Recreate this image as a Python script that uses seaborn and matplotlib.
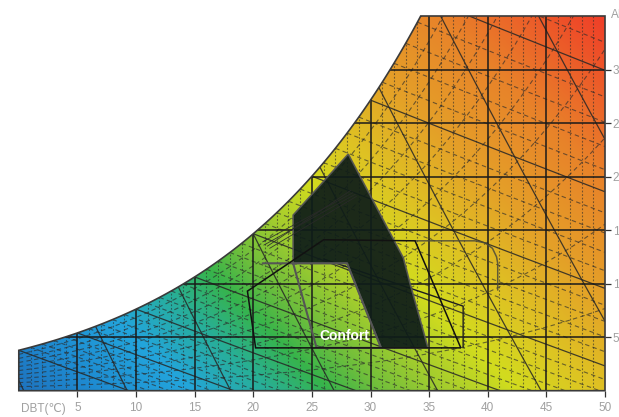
import numpy as np
import pandas as pd
import matplotlib
matplotlib.use("Agg")
import matplotlib.pyplot as plt
import seaborn as sns
from matplotlib.colors import LinearSegmentedColormap
from matplotlib.patches import Polygon

# ---------------------------------------------------------------------------
# Chart values
# ---------------------------------------------------------------------------
P_ATM = 101.325          # kPa, sea-level pressure
T_MAX = 50               # dry-bulb range (degC)
W_MAX = 35               # absolute humidity range (g/kg)

dbt_ticks = [5, 10, 15, 20, 25, 30, 35, 40, 45, 50]
ah_ticks = [5, 10, 15, 20, 25, 30]

rh_levels = [10, 20, 30, 40, 50, 60, 70, 80, 90]          # %
wb_levels = list(range(0, 41))                            # degC, solid every 5
vol_levels = [0.775, 0.8, 0.825, 0.85, 0.875, 0.9, 0.925, 0.95]  # m3/kg

# Passive strategy zone (filled)
passive_T = [28.1, 32.8, 33.4, 34.9, 30.9, 28.0, 23.4, 23.4]
passive_w = [22.1, 12.4, 9.9, 4.0, 4.0, 11.9, 11.9, 16.4]

# Comfort zone outline
comfort_T = [19.5, 26.0, 33.8, 37.7, 20.2]
comfort_w = [9.3, 14.1, 14.0, 4.0, 4.0]

# Inner trapezoid outline
inner_T = [20.8, 28.0, 30.9, 25.4, 23.4]
inner_w = [11.9, 11.9, 4.0, 4.0, 11.9]

# Ventilation outline (rounded corner on the right)
vent_T = [33.8, 38.9, 39.8, 40.4, 40.75, 40.85, 40.85]
vent_w = [14.0, 14.0, 13.8, 13.3, 12.5, 11.9, 9.4]

# Evaporative outline
evap_T = [26.0, 37.9, 37.9]
evap_w = [12.3, 7.9, 4.0]

# Bundle of process lines
bundle_T0 = [20.8, 20.9, 21.2, 21.4]
bundle_w0 = [13.9, 13.6, 13.5, 13.3]
bundle_T1 = [28.5, 28.7, 28.3, 28.8]
bundle_w1 = [18.5, 18.35, 18.7, 18.15]

comfort_label = "Confort"


# ---------------------------------------------------------------------------
# Psychrometric relations
# ---------------------------------------------------------------------------
def p_sat(T):
    return 0.61094 * np.exp(17.625 * T / (T + 243.04))


def w_rh(T, rh):
    pv = rh / 100.0 * p_sat(T)
    return 622.0 * pv / (P_ATM - pv)


def w_sat(T):
    return w_rh(T, 100.0)


def w_wb(T, twb):
    ws = w_sat(twb) / 1000.0
    return 1000.0 * ((2501 - 2.326 * twb) * ws - 1.006 * (T - twb)) / (
        2501 + 1.86 * T - 4.186 * twb)


def w_vol(T, v):
    return 1000.0 * (v * P_ATM / (0.287042 * (T + 273.15)) - 1.0) / 1.6078


# ---------------------------------------------------------------------------
# Figure
# ---------------------------------------------------------------------------
sns.set_theme(style="white")
plt.rcParams["font.family"] = ["Liberation Sans", "DejaVu Sans"]

fig = plt.figure(figsize=(6.19, 4.17), dpi=100)
ax = fig.add_axes([18.8 / 619, 26.3 / 417, 586.2 / 619, 374.7 / 417])
ax.set_xlim(0, T_MAX)
ax.set_ylim(0, W_MAX)

# Chart boundary: saturation curve capped at W_MAX
T_fine = np.linspace(0, T_MAX, 1001)
ws_fine = w_sat(T_fine)
T_cap = np.interp(W_MAX, ws_fine, T_fine)
keep = T_fine < T_cap
top_T = np.concatenate([T_fine[keep], [T_cap, T_MAX]])
top_w = np.concatenate([ws_fine[keep], [W_MAX, W_MAX]])
bx = np.concatenate([[0], top_T, [T_MAX]])
by = np.concatenate([[0], top_w, [0]])
boundary = np.column_stack([bx, by])

clip = Polygon(boundary, closed=True, transform=ax.transData,
               facecolor="none", edgecolor="none")
ax.add_patch(clip)

# Colour field
stops = [
    (0, "#1e73be"), (80, "#1e8cd2"), (170, "#23a5dc"), (250, "#28af96"),
    (310, "#37b44b"), (360, "#6ebe3c"), (430, "#a5cd2d"), (500, "#d2dc1e"),
    (580, "#dec323"), (680, "#e4a028"), (800, "#e8822a"), (980, "#f03728"),
]
cmap = LinearSegmentedColormap.from_list(
    "psy", [(p / 980.0, c) for p, c in stops])
Tg, Wg = np.meshgrid(np.linspace(0, T_MAX, 600), np.linspace(0, W_MAX, 420))
V = Tg + 0.9116 * Wg
im = ax.imshow(V, extent=(0, T_MAX, 0, W_MAX), origin="lower", aspect="auto",
               cmap=cmap, vmin=0, vmax=83.3, interpolation="bilinear", zorder=1)
im.set_clip_path(clip)


def draw_family(frame, **kw):
    start = len(ax.lines)
    sns.lineplot(data=frame, x="T", y="w", units="id", estimator=None,
                 sort=False, legend=False, ax=ax, **kw)
    for ln in ax.lines[start:]:
        ln.set_clip_path(clip)


def frame_of(segments):
    parts = [pd.DataFrame({"T": t, "w": w, "id": i})
             for i, (t, w) in enumerate(segments)]
    return pd.concat(parts, ignore_index=True)


# Minor dry-bulb lines (dotted, every 1 degC)
minor_dbt = [(np.array([t, t], float), np.array([0, W_MAX], float))
             for t in range(1, T_MAX) if t % 5]
draw_family(frame_of(minor_dbt), color="#2b2b2b", lw=0.8,
            ls=(0, (1.6, 1.6)), alpha=0.6, zorder=2)

# Relative humidity curves
T_line = np.linspace(0, T_MAX, 400)
rh_segs = [(T_line, w_rh(T_line, rh)) for rh in rh_levels]
draw_family(frame_of(rh_segs), color="#2b2b2b", lw=0.8,
            ls=(0, (4, 3)), alpha=0.65, zorder=2)

# Wet-bulb lines
wb_minor, wb_major = [], []
for twb in wb_levels:
    t = np.linspace(twb, T_MAX, 200)
    (wb_major if twb % 5 == 0 else wb_minor).append((t, w_wb(t, twb)))
draw_family(frame_of(wb_minor), color="#2b2b2b", lw=0.8,
            ls=(0, (4, 3)), alpha=0.65, zorder=2)
draw_family(frame_of(wb_major), color="#262626", lw=0.9, alpha=0.85, zorder=3)

# Specific volume lines
vol_segs = [(T_line, w_vol(T_line, v)) for v in vol_levels]
draw_family(frame_of(vol_segs), color="#262626", lw=0.9, alpha=0.85, zorder=3)

# Major grid
major = [(np.array([t, t], float), np.array([0, W_MAX], float))
         for t in range(5, T_MAX, 5)]
major += [(np.array([0, T_MAX], float), np.array([w, w], float))
          for w in ah_ticks]
draw_family(frame_of(major), color="#1a1a1a", lw=1.1, zorder=3)

# Zones
ax.add_patch(Polygon(np.column_stack([passive_T, passive_w]), closed=True,
                     facecolor="#0e1c19", alpha=0.93, edgecolor="#555555",
                     lw=1.2, zorder=5))
ax.plot(evap_T, evap_w, color="#1e1e1e", lw=1.0, zorder=4)
ax.plot(vent_T, vent_w, color="#4a4a3a", lw=1.1, alpha=0.85, zorder=4)
ax.plot(inner_T, inner_w, color="#555555", lw=1.5, zorder=6)
ax.add_patch(Polygon(np.column_stack([comfort_T, comfort_w]), closed=True,
                     fill=False, edgecolor="#111111", lw=1.1, zorder=6))
for t0, w0, t1, w1 in zip(bundle_T0, bundle_w0, bundle_T1, bundle_w1):
    ax.plot([t0, t1], [w0, w1], color="#2a2a2a", lw=0.6, alpha=0.9, zorder=6)

ax.text(27.78, 5.1, comfort_label, color="white", fontsize=10,
        fontweight="bold", ha="center", va="center", zorder=8)

# Chart outline
ax.add_patch(Polygon(boundary, closed=True, fill=False, edgecolor="#3a3a3a",
                     lw=1.2, zorder=7, clip_on=False))

# Axes decoration
for sp in ax.spines.values():
    sp.set_visible(False)
ax.set_xlabel("")
ax.set_ylabel("")
ax.set_xticks(dbt_ticks)
ax.set_xticklabels([str(t) for t in dbt_ticks])
ax.yaxis.tick_right()
ax.set_yticks(ah_ticks)
ax.set_yticklabels([str(w) for w in ah_ticks])
ax.tick_params(axis="x", bottom=True, length=4, width=0.9, color="#333333",
               labelcolor="#a0a0a0", labelsize=8.5, pad=4)
ax.tick_params(axis="y", right=True, left=False, length=4.5, width=0.9,
               color="#333333", labelcolor="#a0a0a0", labelsize=8.5, pad=1)

fig.text(20.6 / 619, 1 - 409 / 417, "DBT(℃)", color="#a0a0a0", fontsize=8.5,
         ha="left", va="center")
fig.text(611 / 619, 1 - 15 / 417, "AH(g/kg)", color="#a0a0a0", fontsize=8.5,
         ha="left", va="center")

fig.savefig("out.png", dpi=100)
